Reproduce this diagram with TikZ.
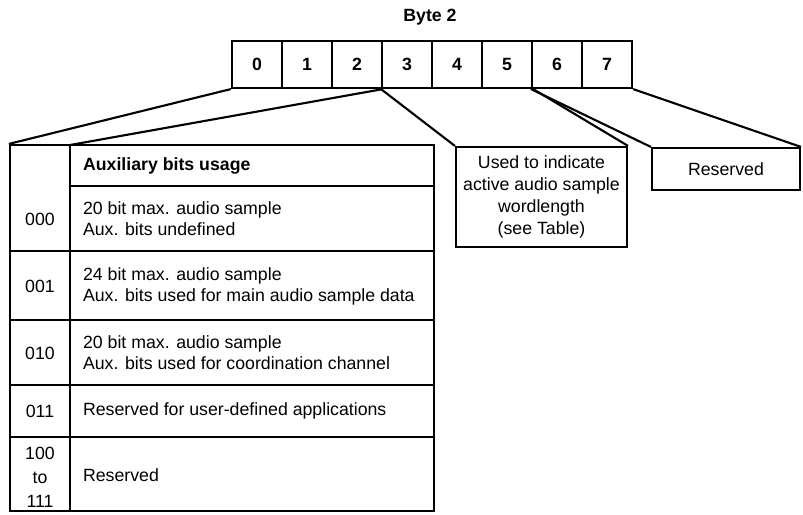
\documentclass[tikz,border=0pt]{standalone}
\usepackage{fontspec}
\setmainfont{Liberation Sans}
\usetikzlibrary{positioning}

\begin{document}
\begin{tikzpicture}[x=0.025cm, y=-0.025cm, line width=1.5pt,
    every node/.style={font=\fontsize{12.6}{15}\selectfont, inner sep=0pt},
    bitcell/.style={draw, minimum width=1.25cm, minimum height=1.175cm, font=\fontsize{12.6}{15}\selectfont\bfseries},
    infobox/.style={draw, align=center},
    rowlabel/.style={align=center},
    rowtext/.style={align=left, anchor=west}]
    \useasboundingbox (0,0) rectangle (803,514);
    % Byte 2 mit den Bits 0..7
    \node[font=\fontsize{12.6}{15}\selectfont\bfseries] (title) at (430,17) {Byte 2};
    \foreach \i in {0,...,7}
      \node[bitcell] (b\i) at (257+50*\i,64.5) {\i};
    % Tabelle fuer Bits 0..2
    \node[draw, minimum width=10.6cm, minimum height=9.15cm] (tab) at (222,328) {};
    \coordinate (colsep) at (70,145);
    \draw (colsep) -- (colsep |- tab.south);
    \draw (70,186) -- (tab.east |- 0,186);
    \foreach \y in {251,320,385,437}
      \draw (tab.west |- 0,\y) -- (tab.east |- 0,\y);
    \node[rowtext, font=\fontsize{12.6}{15}\selectfont\bfseries] (hdr) at (82,166) {Auxiliary bits usage};
    \node[rowlabel] (c000) at (40,219) {000};
    \node[rowtext] (t000) at (82,219) {20 bit max. audio sample\\Aux. bits undefined};
    \node[rowlabel] (c001) at (40,286) {001};
    \node[rowtext] (t001) at (82,286) {24 bit max. audio sample\\Aux. bits used for main audio sample data};
    \node[rowlabel] (c010) at (40,353) {010};
    \node[rowtext] (t010) at (82,353) {20 bit max. audio sample\\Aux. bits used for coordination channel};
    \node[rowlabel] (c011) at (40,411) {011};
    \node[rowtext] (t011) at (82,411) {Reserved for user-defined applications};
    \node[rowlabel, font=\fontsize{12.6}{17}\selectfont] (c100) at (40,477) {100\\to\\111};
    \node[rowtext] (t100) at (82,475) {Reserved};
    % Bits 3..5 und 6..7
    \node[infobox, minimum width=4.275cm, minimum height=2.5cm, font=\fontsize{12.6}{15.5}\selectfont] (wlen) at (541.5,197)
      {Used to indicate\\active audio sample\\wordlength\\(see Table)};
    \node[infobox, minimum width=3.7cm, minimum height=1.05cm] (resv) at (726,169) {Reserved};
    % Verbindungslinien
    \draw (b0.south west) -- (tab.north west);
    \draw (b2.south east) -- (colsep);
    \draw (b3.south west) -- (wlen.north west);
    \draw (b5.south east) -- (wlen.north east);
    \draw (b6.south west) -- (resv.north west);
    \draw (b7.south east) -- (resv.north east);
  \end{tikzpicture}
\end{document}
